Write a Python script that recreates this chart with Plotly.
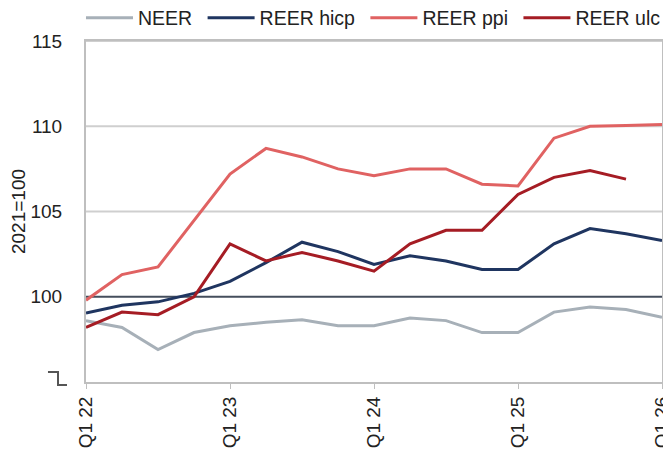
import plotly.graph_objects as go

quarters = ["Q1 22", "Q2 22", "Q3 22", "Q4 22",
            "Q1 23", "Q2 23", "Q3 23", "Q4 23",
            "Q1 24", "Q2 24", "Q3 24", "Q4 24",
            "Q1 25", "Q2 25", "Q3 25", "Q4 25", "Q1 26"]

neer = [98.6, 98.2, 96.9, 97.9, 98.3, 98.5, 98.65, 98.3, 98.3, 98.75, 98.6, 97.9,
        97.9, 99.1, 99.4, 99.25, 98.8]
reer_hicp = [99.05, 99.5, 99.7, 100.2, 100.9, 102.0, 103.2, 102.65, 101.9, 102.4, 102.1,
             101.6, 101.6, 103.1, 104.0, 103.7, 103.3]
reer_ppi = [99.8, 101.3, 101.75, 104.5, 107.2, 108.7, 108.2, 107.5, 107.1, 107.5, 107.5,
            106.6, 106.5, 109.3, 110.0, 110.05, 110.1]
reer_ulc = [98.2, 99.1, 98.95, 100.0, 103.1, 102.1, 102.6, 102.1, 101.5, 103.1, 103.9,
            103.9, 106.0, 107.0, 107.4, 106.9, None]

series_names = ["NEER", "REER hicp", "REER ppi", "REER ulc"]
series_vals = [neer, reer_hicp, reer_ppi, reer_ulc]
colors = ["#A7B0B8", "#1F3560", "#E06262", "#A51C24"]

x_ticks = ["Q1 22", "Q1 23", "Q1 24", "Q1 25", "Q1 26"]
y_ticks = [100, 105, 110, 115]
base_value = 100

FONT = "Liberation Sans"
NBSP = "\u00a0"

fig = go.Figure()
for i, (name, vals, col) in enumerate(zip(series_names, series_vals, colors)):
    label = name + (NBSP if i < len(series_names) - 1 else "")
    fig.add_trace(go.Scatter(x=quarters, y=vals, name=label, mode="lines",
                             line=dict(color=col, width=3), connectgaps=False))

# gridlines (light) and the base line at 100 (dark)
for v in y_ticks:
    is_base = (v == base_value)
    fig.add_shape(type="line", xref="paper", x0=0, x1=1, yref="y", y0=v, y1=v,
                  line=dict(color="#454E5C" if is_base else "#CFCFCF", width=2),
                  layer="below")

# axis break symbol
fig.add_shape(type="path", xref="paper", yref="paper",
              path="M -0.066 0.0293 L -0.0486 0.0293 L -0.0486 -0.0088 L -0.033 -0.0088",
              line=dict(color="#555555", width=2))

# the page has an 8px body margin, so the figure is drawn 8px smaller and offset
fig.update_layout(
    width=663, height=444,
    margin=dict(l=78, r=9, t=33, b=70, autoexpand=False),
    paper_bgcolor="white", plot_bgcolor="white",
    font=dict(family=FONT, size=19, color="#222222"),
    showlegend=True,
    legend=dict(orientation="h", x=-0.0087, xanchor="left", y=1.067, yanchor="middle",
                itemwidth=47, font=dict(size=19.5), bgcolor="rgba(0,0,0,0)"),
    xaxis=dict(type="category", categoryorder="array", categoryarray=quarters,
               range=[0, 16], tickmode="array", tickvals=x_ticks, ticktext=x_ticks,
               tickangle=-90, ticks="outside", ticklen=5, tickcolor="#BFBFBF",
               showline=True, linecolor="#BFBFBF", linewidth=2, mirror=True,
               showgrid=False, tickfont=dict(size=19), automargin=False),
    yaxis=dict(range=[95, 115], tickmode="array", tickvals=y_ticks,
               showline=True, linecolor="#BFBFBF", linewidth=2, mirror=True,
               showgrid=False, zeroline=False,
               ticks="", ticklabelstandoff=18, tickfont=dict(size=19), automargin=False,
               title=dict(text="2021=100", font=dict(size=19), standoff=6)),
)

fig.write_html("out.html")
